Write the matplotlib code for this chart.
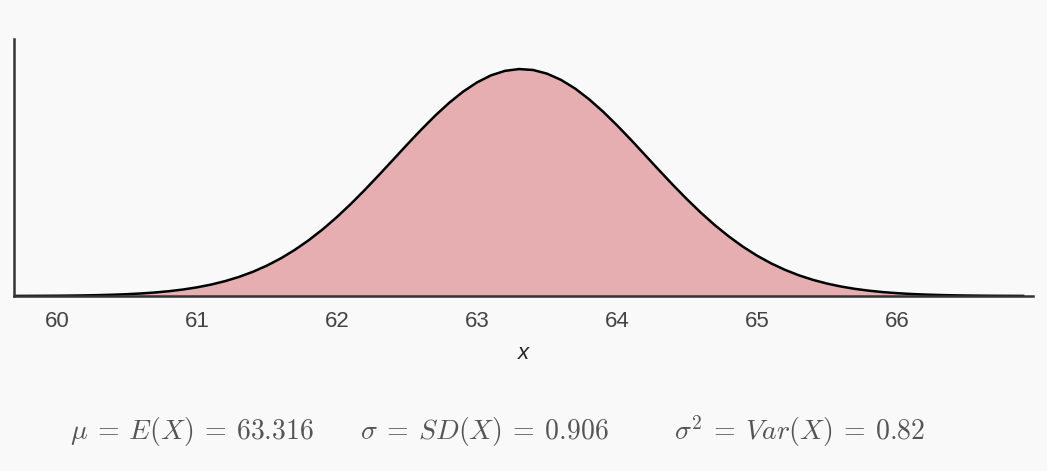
import matplotlib
matplotlib.use('Agg')
import matplotlib.pyplot as plt

plt.rcParams['font.family'] = ['Liberation Sans', 'DejaVu Sans']
plt.rcParams['mathtext.fontset'] = 'cm'

# x positions of the curve readings
x_vals = [59.7, 59.8, 59.9,
          60.0, 60.1, 60.2, 60.3, 60.4, 60.5, 60.6, 60.7, 60.8, 60.9,
          61.0, 61.1, 61.2, 61.3, 61.4, 61.5, 61.6, 61.7, 61.8, 61.9,
          62.0, 62.1, 62.2, 62.3, 62.4, 62.5, 62.6, 62.7, 62.8, 62.9,
          63.0, 63.1, 63.2, 63.3, 63.4, 63.5, 63.6, 63.7, 63.8, 63.9,
          64.0, 64.1, 64.2, 64.3, 64.4, 64.5, 64.6, 64.7, 64.8, 64.9,
          65.0, 65.1, 65.2, 65.3, 65.4, 65.5, 65.6, 65.7, 65.8, 65.9,
          66.0, 66.1, 66.2, 66.3, 66.4, 66.5, 66.6, 66.7, 66.8, 66.9]

# density
density = [0.00015, 0.00024, 0.00036,
           0.00054, 0.00081, 0.00119, 0.00173, 0.00248, 0.00352, 0.00493, 0.00682, 0.00932, 0.01258,
           0.01678, 0.02212, 0.02880, 0.03702, 0.04706, 0.05906, 0.07322, 0.08973, 0.1086, 0.1298,
           0.1533, 0.1789, 0.2062, 0.2348, 0.2641, 0.2935, 0.3222, 0.3495, 0.3744, 0.3963,
           0.4143, 0.4280, 0.4367, 0.4402, 0.4384, 0.4313, 0.4192, 0.4025, 0.3817, 0.3577,
           0.3311, 0.3028, 0.2735, 0.2441, 0.2152, 0.1875, 0.1613, 0.1371, 0.1152, 0.0955,
           0.07828, 0.06336, 0.05068, 0.04002, 0.03125, 0.02409, 0.01835, 0.01381, 0.01027, 0.00754,
           0.00547, 0.00392, 0.00278, 0.00194, 0.00134, 0.00092, 0.00062, 0.00041, 0.00027, 0.00018]

tick_vals = [60, 61, 62, 63, 64, 65, 66]
summary = [r'$\mu \:=\: E(X) \:=\: 63.316$',
           r'$\sigma \:=\: SD(X) \:=\: 0.906$',
           r'$\sigma^2 \:=\: Var(X) \:=\: 0.82$']

bg = '#f9f9f9'
fig = plt.figure(figsize=(10.47, 4.71), dpi=100, facecolor=bg)
ax = fig.add_axes([14/1047, 175/471, 1019/1047, 257/471], facecolor=bg)

ax.fill_between(x_vals, density, 0, color='#e6aeb0', lw=0)
ax.plot(x_vals, density, color='black', lw=1.8)

ax.set_xlim(59.693, 66.971)
ax.set_ylim(0, 0.4985)

for s in ['top', 'right']:
    ax.spines[s].set_visible(False)
for s in ['left', 'bottom']:
    ax.spines[s].set_color('#333333')
    ax.spines[s].set_linewidth(1.8)

ax.set_yticks([])
ax.set_xticks(tick_vals)
ax.tick_params(axis='x', length=0, pad=11, labelsize=16, labelcolor='#444444')
ax.set_xlabel('x', fontsize=16, style='italic', color='#222222', labelpad=8)

# summary line, three pieces
for xc, txt in zip([192, 484, 800], summary):
    fig.text(xc/1047, 1 - 431/471, txt, ha='center', va='center',
             fontsize=20, color='#555555')

fig.savefig('out.png', dpi=100, facecolor=bg)
